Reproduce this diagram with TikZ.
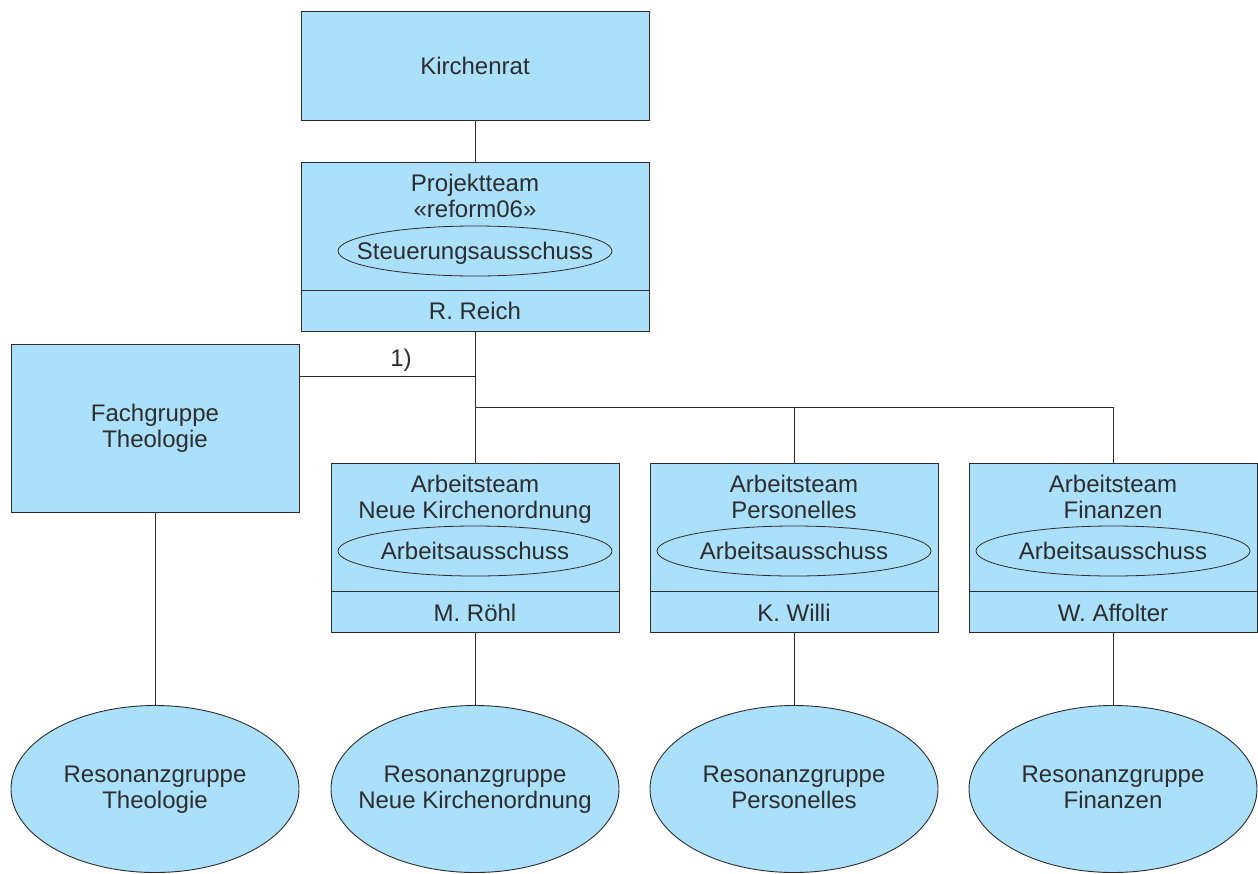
\documentclass[tikz,border=0pt]{standalone}
\usepackage{fontspec}
\setmainfont{Liberation Sans}
\usetikzlibrary{shapes.geometric}
\definecolor{boxblue}{RGB}{170,224,250}
\definecolor{ink}{RGB}{45,45,45}
\begin{document}
\begin{tikzpicture}[x=1pt,y=-1pt,
  every node/.style={font=\fontsize{24}{26}\selectfont, text=ink},
  box/.style={draw=ink, fill=boxblue, line width=0.9pt, rectangle, inner sep=0pt, align=center},
  smallell/.style={draw=ink, line width=0.8pt, ellipse, inner sep=0pt, minimum width=274pt, minimum height=50pt},
  bigell/.style={draw=ink, fill=boxblue, line width=0.9pt, ellipse, inner sep=0pt, minimum width=288pt, minimum height=167pt},
  conn/.style={draw=ink, line width=0.8pt},
  txt/.style={align=center, inner sep=0pt, yshift=-3pt},
  reslab/.style={align=center, inner sep=0pt, yshift=-1pt}
]
\useasboundingbox (0,0) rectangle (1258,873);

% Kirchenrat
\node[box, minimum width=348pt, minimum height=109pt] (kr) at (475,65.5) {Kirchenrat};

% Projektteam
\node[box, minimum width=348pt, minimum height=169pt] (pt) at (475,246.5) {};
\draw[conn] (pt.west |- 0,290) -- (pt.east |- 0,290);
\node[txt] (ptt) at (475,196) {Projektteam\strut\\«reform06»\strut};
\node[smallell, label={[txt]center:Steuerungsausschuss\strut}] (pte) at (475,251) {};
\node[txt] (ptn) at (475,311) {R. Reich\strut};

% Fachgruppe
\node[box, minimum width=288pt, minimum height=168pt] (fach) at (155,428) {Fachgruppe\\Theologie};

% Arbeitsteams
\foreach \n/\x/\t/\p in {at1/475/Neue Kirchenordnung/M. Röhl, at2/794/Personelles/K. Willi, at3/1113/Finanzen/W. Affolter}{
  \node[box, minimum width=288pt, minimum height=169pt] (\n) at (\x,547.5) {};
  \draw[conn] (\n.west |- 0,591) -- (\n.east |- 0,591);
  \node[txt] (\n t) at (\x,497) {Arbeitsteam\strut\\\t\strut};
  \node[smallell, label={[txt]center:Arbeitsausschuss\strut}] (\n e) at (\x,551) {};
  \node[txt] (\n n) at (\x,613) {\p\strut};
}

% Resonanzgruppen
\node[bigell, label={[reslab]center:Resonanzgruppe\strut\\Theologie\strut}] (r1) at (155,789) {};
\node[bigell, label={[reslab]center:Resonanzgruppe\strut\\Neue Kirchenordnung\strut}] (r2) at (475,789) {};
\node[bigell, label={[reslab]center:Resonanzgruppe\strut\\Personelles\strut}] (r3) at (794,789) {};
\node[bigell, label={[reslab]center:Resonanzgruppe\strut\\Finanzen\strut}] (r4) at (1113,789) {};

% junctions
\coordinate (j1) at (475,376);
\coordinate (j2) at (475,407);

% connectors
\draw[conn] (kr) -- (pt);
\draw[conn] (pt.south) -- (at1.north);
\draw[conn] (j1) -- (j1 -| fach.east);
\node[txt] (lab1) at (401,358) {1)\strut};
\draw[conn] (j2) -| (at2.north);
\draw[conn] (j2) -| (at3.north);
\draw[conn] (fach) -- (r1);
\draw[conn] (at1) -- (r2);
\draw[conn] (at2) -- (r3);
\draw[conn] (at3) -- (r4);
\end{tikzpicture}
\end{document}
